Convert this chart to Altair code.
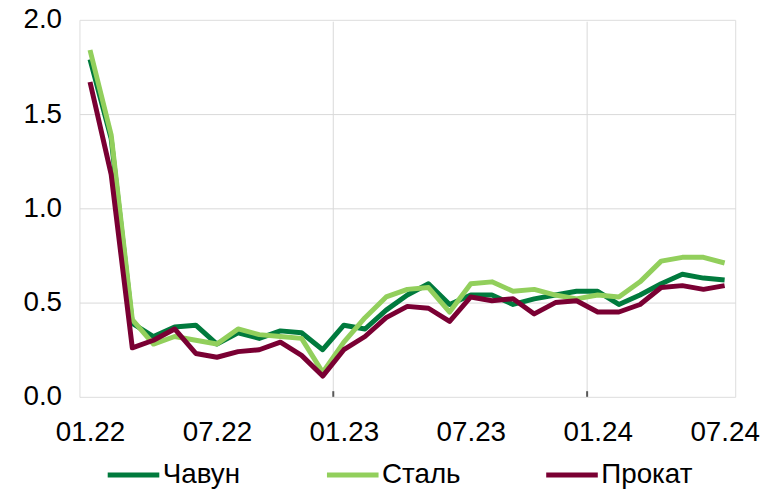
import altair as alt
import pandas as pd

months = ["01.22", "02.22", "03.22", "04.22", "05.22", "06.22", "07.22", "08.22",
          "09.22", "10.22", "11.22", "12.22", "01.23", "02.23", "03.23", "04.23",
          "05.23", "06.23", "07.23", "08.23", "09.23", "10.23", "11.23", "12.23",
          "01.24", "02.24", "03.24", "04.24", "05.24", "06.24", "07.24"]

chavun = [1.79, 1.37, 0.39, 0.32, 0.37, 0.38, 0.28, 0.34, 0.31, 0.35, 0.34, 0.25,
          0.38, 0.36, 0.46, 0.54, 0.60, 0.49, 0.54, 0.54, 0.49, 0.52, 0.54, 0.56,
          0.56, 0.49, 0.54, 0.60, 0.65, 0.63, 0.62]
stal = [1.84, 1.39, 0.41, 0.28, 0.32, 0.30, 0.28, 0.36, 0.33, 0.32, 0.31, 0.13,
        0.29, 0.42, 0.53, 0.57, 0.58, 0.45, 0.60, 0.61, 0.56, 0.57, 0.54, 0.52,
        0.54, 0.53, 0.61, 0.72, 0.74, 0.74, 0.71]
prokat = [1.67, 1.18, 0.26, 0.30, 0.36, 0.23, 0.21, 0.24, 0.25, 0.29, 0.22, 0.11,
          0.25, 0.32, 0.42, 0.48, 0.47, 0.40, 0.53, 0.51, 0.52, 0.44, 0.50, 0.51,
          0.45, 0.45, 0.49, 0.58, 0.59, 0.57, 0.59]

series_names = ["Чавун", "Сталь", "Прокат"]
series_colors = ["#007a3d", "#92cf5c", "#7a0033"]
tick_labels = ["01.22", "07.22", "01.23", "07.23", "01.24", "07.24"]
year_starts = ["01.23", "01.24"]
y_ticks = [0.0, 0.5, 1.0, 1.5, 2.0]

FONT = "Liberation Sans"

rows = []
for i, m in enumerate(months):
    for name, vals in zip(series_names, [chavun, stal, prokat]):
        rows.append({"pos": i + 0.5, "month": m, "series": name, "value": vals[i]})
df = pd.DataFrame(rows)

grid_df = pd.DataFrame({"pos": [months.index(m) for m in year_starts]})

label_pos = [months.index(t) + 0.5 for t in tick_labels]
label_expr = " : ".join(f"datum.value == {p} ? '{t}'" for p, t in zip(label_pos, tick_labels)) + " : ''"

x_scale = alt.Scale(domain=[0, len(months)], nice=False, zero=False)
y_scale = alt.Scale(domain=[0, 2], nice=False)

vgrid = alt.Chart(grid_df).mark_rule(color="#d9d9d9", strokeWidth=1).encode(
    x=alt.X("pos:Q", scale=x_scale),
    y=alt.datum(0.01),
    y2=alt.datum(1.99),
)

lines = alt.Chart(df).mark_line(strokeWidth=5, strokeJoin="round").encode(
    x=alt.X("pos:Q", scale=x_scale,
            axis=alt.Axis(values=label_pos, labelExpr=label_expr, grid=False,
                          ticks=False, domain=False, labelFontSize=28,
                          labelPadding=22, labelColor="#000000", labelFont=FONT,
                          title=None)),
    y=alt.Y("value:Q", scale=y_scale,
            axis=alt.Axis(values=y_ticks, format=".1f", grid=True,
                          gridColor="#d9d9d9",
                          gridOpacity={"condition": {"test": "datum.value == 0 || datum.value == 2", "value": 0}, "value": 1},
                          ticks=False, domain=False, labelFontSize=28,
                          labelPadding=18, labelColor="#000000", labelFont=FONT,
                          title=None)),
    color=alt.Color("series:N",
                    scale=alt.Scale(domain=series_names, range=series_colors),
                    legend=alt.Legend(title=None, orient="none", direction="horizontal",
                                      columns=3, gridAlign="all", legendX=26, legendY=430,
                                      symbolType="stroke", symbolSize=2704,
                                      symbolStrokeWidth=5, labelFontSize=28,
                                      labelFont=FONT, labelColor="#000000",
                                      labelOffset=1, columnPadding=63, padding=0)),
    order=alt.Order("pos:Q"),
    detail="series:N",
)

ticks = alt.Chart(grid_df).mark_rule(color="#595959", strokeWidth=2).encode(
    x=alt.X("pos:Q", scale=x_scale),
    y=alt.datum(0),
    y2=alt.datum(0.03),
)

chart = alt.layer(vgrid, lines, ticks).properties(
    width=661, height=380,
    autosize=alt.AutoSizeParams(type="none"),
    padding={"left": 72, "top": 10, "right": 26, "bottom": 96},
).configure_view(
    stroke="#595959", strokeWidth=2.5
).configure(background="white")

chart.save("out.html", embed_options={"renderer": "svg", "actions": False})
